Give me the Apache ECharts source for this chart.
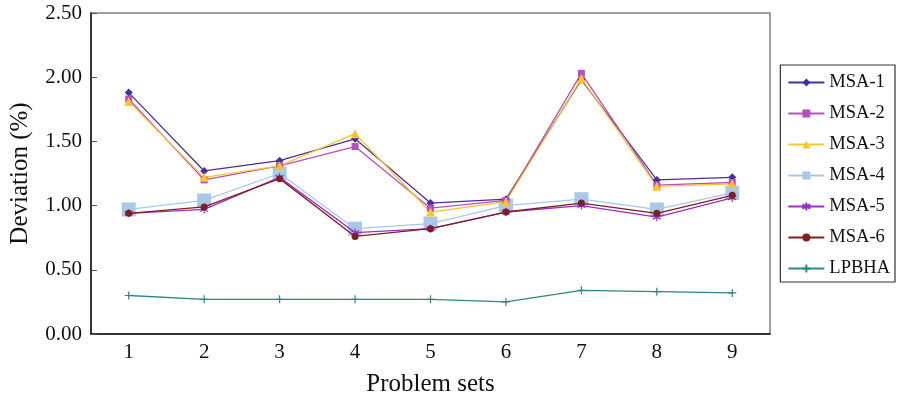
<!DOCTYPE html>
<html><head><meta charset="utf-8">
<script src="https://cdn.jsdelivr.net/npm/echarts@6/dist/echarts.min.js"></script>
<style>html,body{margin:0;padding:0;background:#fff}#c{width:898px;height:401px}</style>
</head><body><div id="c"></div>
<script>
var categories = ['1','2','3','4','5','6','7','8','9'];
var msa1 = [1.88, 1.27, 1.35, 1.52, 1.02, 1.05, 1.98, 1.20, 1.22];
var msa2 = [1.83, 1.20, 1.31, 1.46, 0.98, 1.04, 2.03, 1.16, 1.18];
var msa3 = [1.81, 1.22, 1.31, 1.56, 0.95, 1.03, 1.99, 1.15, 1.17];
var msa4 = [0.97, 1.04, 1.25, 0.82, 0.86, 1.00, 1.05, 0.97, 1.10];
var msa5 = [0.94, 0.97, 1.22, 0.79, 0.82, 0.95, 1.00, 0.91, 1.06];
var msa6 = [0.94, 0.99, 1.21, 0.76, 0.82, 0.95, 1.02, 0.94, 1.08];
var lpbha = [0.30, 0.27, 0.27, 0.27, 0.27, 0.25, 0.34, 0.33, 0.32];
var names = ['MSA-1','MSA-2','MSA-3','MSA-4','MSA-5','MSA-6','LPBHA'];
var yTicks = [0, 0.5, 1.0, 1.5, 2.0, 2.5];

var font = '"Liberation Serif", "DejaVu Serif", serif';
var star = 'path://M5,0L5,10M0.7,2.5L9.3,7.5M0.7,7.5L9.3,2.5';
var plus = 'path://M5,0L5,10M0,5L10,5';
var specs = [
  {data: msa1, color: '#4a2f9c', symbol: 'diamond', size: 8},
  {data: msa2, color: '#b84fbf', symbol: 'rect', size: 7},
  {data: msa3, color: '#f8c62a', symbol: 'triangle', size: 9},
  {data: msa4, color: '#a9c7ea', symbol: 'rect', size: 14},
  {data: msa5, color: '#9a2fc4', symbol: star, size: 8, stroke: true},
  {data: msa6, color: '#801f22', symbol: 'circle', size: 7},
  {data: lpbha, color: '#2f8585', symbol: plus, size: 8, stroke: true}
];
var series = specs.map(function (s, i) {
  return {
    name: names[i], type: 'line', data: s.data,
    symbol: s.symbol, symbolSize: s.size, showAllSymbol: true,
    lineStyle: {color: s.color, width: 1.3},
    itemStyle: s.stroke ? {color: s.color, borderColor: s.color, borderWidth: 1.2} : {color: s.color, borderWidth: 0},
    emphasis: {disabled: true},
    z: 10 - (i === 3 ? 8 : 0)
  };
});

var chart = echarts.init(document.getElementById('c'), null, {renderer: 'canvas'});
chart.setOption({
  animation: false,
  backgroundColor: '#fff',
  grid: {left: 91, right: 128, top: 13, bottom: 67, outerBoundsMode: 'none', containLabel: false,
    show: true, borderColor: '#808080', borderWidth: 1.5, backgroundColor: 'transparent'},
  legend: {
    orient: 'vertical', right: 3, top: 65,
    data: names,
    itemWidth: 36, itemHeight: 10, itemGap: 12,
    padding: [8, 5, 4, 7],
    borderColor: '#333', borderWidth: 1.2,
    textStyle: {fontFamily: font, fontSize: 18.5, color: '#111'}
  },
  xAxis: {
    type: 'category', data: categories, boundaryGap: true,
    name: 'Problem sets', nameLocation: 'middle', nameGap: 38,
    nameTextStyle: {fontFamily: font, fontSize: 25, color: '#111'},
    axisLine: {lineStyle: {color: '#111', width: 1.5}},
    axisTick: {inside: true, length: 7, lineStyle: {color: '#111'}},
    axisLabel: {fontFamily: font, fontSize: 21, color: '#111', margin: 8},
    splitLine: {show: false}
  },
  yAxis: {
    type: 'value', min: 0, max: 2.5, interval: 0.5,
    name: 'Deviation (%)', nameLocation: 'middle', nameGap: 58,
    nameTextStyle: {fontFamily: font, fontSize: 25, color: '#111'},
    axisLine: {show: true, lineStyle: {color: '#111', width: 1.5}},
    axisTick: {show: true, inside: true, length: 6, lineStyle: {color: '#555'}},
    axisLabel: {fontFamily: font, fontSize: 21, color: '#111', margin: 9,
      formatter: function (v) { return v.toFixed(2); }},
    splitLine: {show: false}
  },
  series: series
});
</script></body></html>
